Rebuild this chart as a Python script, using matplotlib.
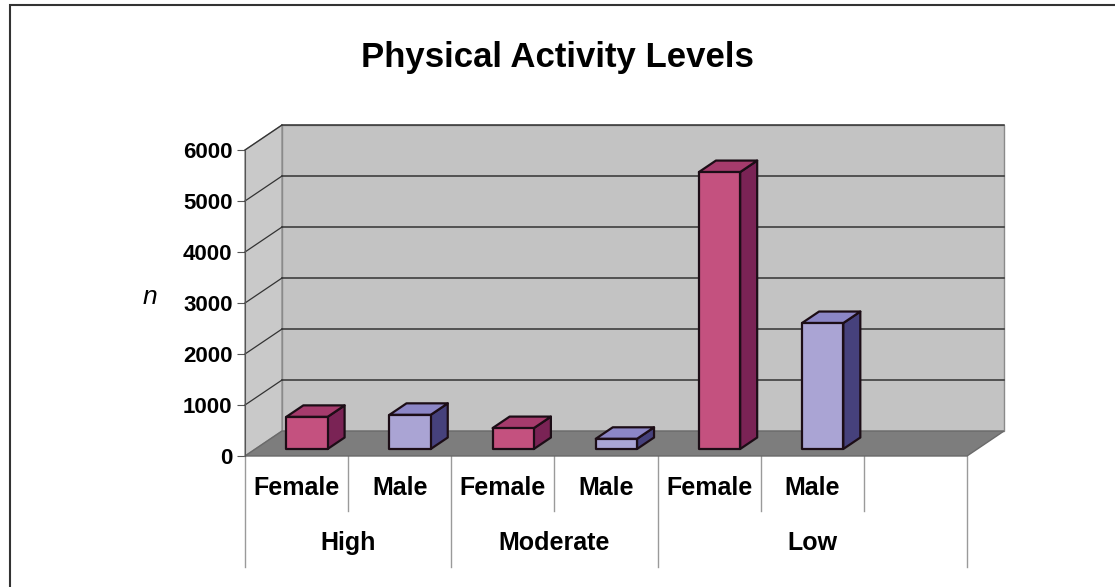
import matplotlib.pyplot as plt
from matplotlib.patches import Polygon, Rectangle

# data
levels = ["High", "Moderate", "Low"]
sexes = ["Female", "Male"]
values = [630, 670, 410, 200, 5430, 2470]   # High F/M, Moderate F/M, Low F/M
bar_labels = ["Female", "Male", "Female", "Male", "Female", "Male", ""]
yticks = [0, 1000, 2000, 3000, 4000, 5000, 6000]

face = {"Female": "#c4517f", "Male": "#aaa4d4"}
side = {"Female": "#7a2355", "Male": "#46417c"}
top = {"Female": "#a53b6c", "Male": "#8c86c6"}

nslots = len(bar_labels)
ymax = yticks[-1]
DX, DY = 0.359, 490          # depth of the 3d box (slot units, value units)
f0, f1 = 0.28, 0.74          # bar depth range as fraction of box depth

W, H = 1115, 587
fig = plt.figure(figsize=(W / 100, H / 100), dpi=100)
ax = fig.add_axes([245 / W, (H - 456) / H, (967 - 245) / W, (456 - 150) / H])
ax.set_xlim(0, nslots)
ax.set_ylim(0, ymax)
ax.set_facecolor("none")

# walls and floor
ax.add_patch(Polygon([(DX, DY), (nslots + DX, DY), (nslots + DX, ymax + DY), (DX, ymax + DY)],
                     fc="#c3c3c3", ec="#8a8a8a", lw=1, clip_on=False, zorder=1))
ax.add_patch(Polygon([(0, 0), (DX, DY), (DX, ymax + DY), (0, ymax)],
                     fc="#c9c9c9", ec="#8a8a8a", lw=1, clip_on=False, zorder=1))
for v in yticks[1:]:
    ax.plot([DX, nslots + DX], [v + DY, v + DY], color="#333333", lw=1.1, clip_on=False, zorder=2)
    ax.plot([0, DX], [v, v + DY], color="#333333", lw=0.9, clip_on=False, zorder=2)
ax.add_patch(Polygon([(0, 0), (nslots, 0), (nslots + DX, DY), (DX, DY)],
                     fc="#7d7d7d", ec="#6a6a6a", lw=1, clip_on=False, zorder=3))

# bars
for i, v in enumerate(values):
    s = sexes[i % 2]
    x0, x1 = i + 0.3 + f0 * DX, i + 0.7 + f0 * DX
    y0 = f0 * DY
    ddx, ddy = (f1 - f0) * DX, (f1 - f0) * DY
    kw = dict(ec="#1c0d16", lw=1.6, joinstyle="round", clip_on=False, zorder=4)
    ax.add_patch(Polygon([(x1, y0), (x1 + ddx, y0 + ddy), (x1 + ddx, y0 + ddy + v), (x1, y0 + v)],
                         fc=side[s], **kw))
    ax.add_patch(Polygon([(x0, y0 + v), (x1, y0 + v), (x1 + ddx, y0 + v + ddy), (x0 + ddx, y0 + v + ddy)],
                         fc=top[s], **kw))
    ax.add_patch(Rectangle((x0, y0), x1 - x0, v, fc=face[s], **kw))

# axis
for sp in ["top", "right", "bottom"]:
    ax.spines[sp].set_visible(False)
ax.spines["left"].set_color("#555555")
ax.spines["left"].set_zorder(5)
ax.set_yticks(yticks)
ax.set_yticklabels([str(t) for t in yticks], fontsize=16, fontweight="semibold",
                   family="Liberation Sans")
ax.tick_params(axis="y", length=6, color="#555555", pad=3)
ax.set_xticks([])

# category table below the floor
row1, row2, bot1, bot2 = -620, -1700, -1080, -2170
for k in range(nslots + 1):
    bot = bot2 if k in (0, 2, 4, nslots) else bot1
    ax.plot([k, k], [0, bot], color="#9a9a9a", lw=1, clip_on=False)
for i, lab in enumerate(bar_labels):
    ax.text(i + 0.5, row1, lab, ha="center", va="center", fontsize=18,
            fontweight="bold", family="Liberation Sans")
for lab, xc in zip(levels, [1, 3, 5.5]):
    ax.text(xc, row2, lab, ha="center", va="center", fontsize=18,
            fontweight="bold", family="Liberation Sans")

fig.text(150 / W, 1 - 297 / H, "n", fontsize=19, style="italic", ha="center", va="center",
         family="Liberation Sans")
fig.text(557 / W, 1 - 57 / H, "Physical Activity Levels", fontsize=25, fontweight="bold",
         ha="center", va="center", family="Liberation Sans")
fig.add_artist(Rectangle((10 / W, -0.05), 1.1, 1.05 - 5 / H, fill=False, ec="#333333",
                         lw=1.5, transform=fig.transFigure))

fig.savefig("out.png", dpi=100)
